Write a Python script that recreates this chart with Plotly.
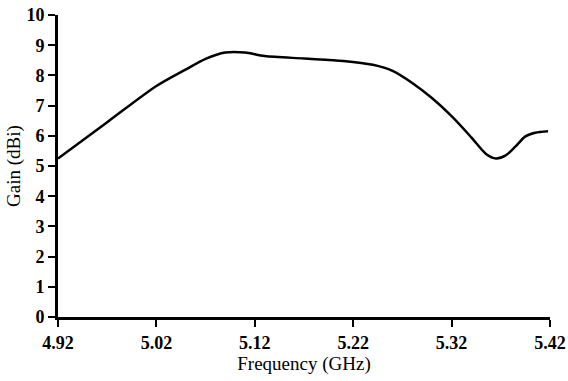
import plotly.graph_objects as go

freq = [4.92, 4.97, 5.02, 5.05, 5.07, 5.09, 5.11, 5.13, 5.17, 5.21, 5.24, 5.26, 5.28,
        5.30, 5.32, 5.34, 5.355, 5.365, 5.375, 5.385, 5.395, 5.405, 5.418]
gain = [5.25, 6.45, 7.65, 8.2, 8.55, 8.76, 8.76, 8.64, 8.56, 8.48, 8.35, 8.15, 7.75,
        7.25, 6.65, 5.95, 5.4, 5.25, 5.35, 5.65, 5.98, 6.1, 6.15]
x_ticks = [4.92, 5.02, 5.12, 5.22, 5.32, 5.42]
y_ticks = list(range(0, 11))

fig = go.Figure(go.Scatter(x=freq, y=gain, mode="lines",
                           line=dict(color="black", width=2.5, shape="spline", smoothing=0.8)))

font = "Liberation Serif, Times New Roman, serif"
fig.update_layout(
    width=568, height=381, margin=dict(l=58, r=18, t=15, b=64),
    plot_bgcolor="white", paper_bgcolor="white", showlegend=False,
    font=dict(family=font),
    xaxis=dict(range=[4.92, 5.42], tickvals=x_ticks, ticktext=[f"<b>{v:.2f}</b>" for v in x_ticks],
               automargin=False,
               showgrid=False, zeroline=False, showline=True, linecolor="black", linewidth=3,
               ticks="outside", ticklen=7, tickwidth=2, tickcolor="black",
               tickfont=dict(family=font, size=18, color="black"),
               title=dict(text="Frequency (GHz)", font=dict(family=font, size=19, color="black"), standoff=6)),
    yaxis=dict(range=[0, 10], tickvals=y_ticks, ticktext=[f"<b>{v}</b>" for v in y_ticks],
               automargin=False,
               showgrid=False, zeroline=False, showline=True, linecolor="black", linewidth=3,
               ticks="outside", ticklen=7, tickwidth=2, tickcolor="black",
               tickfont=dict(family=font, size=18, color="black"),
               title=dict(text="Gain (dBi)", font=dict(family=font, size=19, color="black"), standoff=1)),
)
fig.write_html("out.html")
